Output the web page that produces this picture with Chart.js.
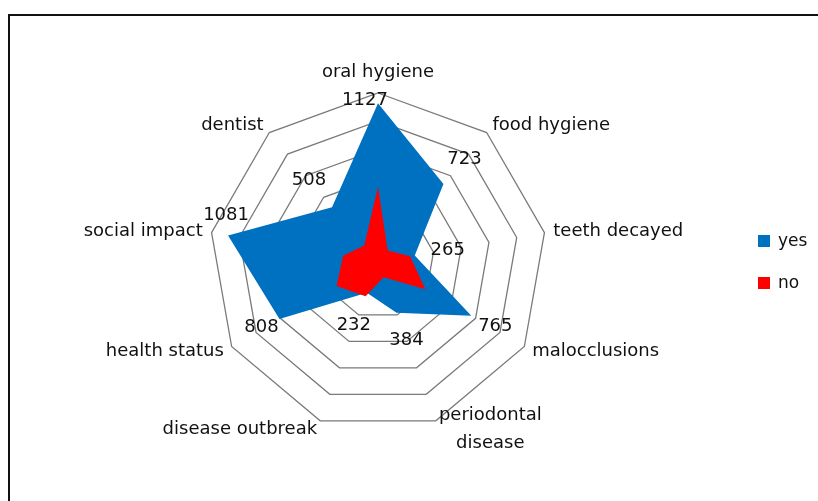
<!DOCTYPE html>
<html>
<head>
<meta charset="utf-8">
<script src="https://cdn.jsdelivr.net/npm/chart.js@4"></script>
<style>
  body { margin: 0; background: #fff; }
  #wrap { position: relative; width: 818px; height: 501px; overflow: hidden; }
  #frame { position: absolute; left: 8px; top: 14px; width: 900px; height: 600px;
           border-left: 2px solid #111; border-top: 2px solid #111; }
  .leg { position: absolute; left: 758px; font: 17px "DejaVu Sans", sans-serif; color: #111; }
  .leg span { display: inline-block; width: 12px; height: 12px; margin-right: 8px; vertical-align: -1px; }
</style>
</head>
<body>
<div id="wrap">
  <div id="frame"></div>
  <canvas id="radarChart"></canvas>
  <div class="leg" style="top:230px"><span style="background:#0070C0"></span>yes</div>
  <div class="leg" style="top:272px"><span style="background:#FF0000"></span>no</div>
</div>
<script>
const categories = ['oral hygiene', 'food hygiene', 'teeth decayed', 'malocclusions',
    ['periodontal', 'disease'], 'disease outbreak', 'health status', 'social impact', 'dentist'];
const yesValues = [1127, 723, 265, 765, 384, 232, 808, 1081, 508];
const noValues = [533, 107, 231, 388, 115, 258, 340, 251, 152];
const ringTicks = [0, 200, 400, 600, 800, 1000, 1200];

// where Excel put each "yes" value label, relative to its point
const labelOffsets = [[-13, -3], [21, -25], [33, -5], [24, 10], [10, 28], [-13, 33], [-18, 8], [-2, -20], [-23, -27]];

const textColor = '#111';
const font = '18px "DejaVu Sans", sans-serif';

const labelsPlugin = {
    id: 'radarLabels',
    afterDatasetsDraw(chart) {
        const ctx = chart.ctx;
        const scale = chart.scales.r;
        ctx.save();
        ctx.font = font;
        ctx.fillStyle = textColor;
        ctx.textBaseline = 'middle';

        // category names around the outer ring
        categories.forEach((cat, i) => {
            const p = scale.getPointPosition(i, scale.drawingArea + 9);
            const lines = Array.isArray(cat) ? cat : [cat];
            const w = Math.max(...lines.map(l => ctx.measureText(l).width));
            const c = Math.cos(p.angle), s = Math.sin(p.angle);
            let cx = p.x;
            if (c > 0.05) cx = p.x + w / 2;
            else if (c < -0.05) cx = p.x - w / 2;
            let cy = p.y;
            if (s < -0.99) cy -= 12;
            const lh = 28;
            ctx.textAlign = 'center';
            lines.forEach((l, k) => {
                ctx.fillText(l, cx, cy + (k - (lines.length - 1) / 2) * lh);
            });
        });

        // value labels of the "yes" series
        const meta = chart.getDatasetMeta(0);
        ctx.textAlign = 'center';
        meta.data.forEach((pt, i) => {
            ctx.fillText(String(yesValues[i]), pt.x + labelOffsets[i][0], pt.y + labelOffsets[i][1]);
        });
        ctx.restore();
    }
};

new Chart(document.getElementById('radarChart'), {
    type: 'radar',
    data: {
        labels: categories,
        datasets: [{
            label: 'yes',
            data: yesValues,
            backgroundColor: '#0070C0',
            borderWidth: 0,
            pointRadius: 0,
            fill: true,
            order: 2
        }, {
            label: 'no',
            data: noValues,
            backgroundColor: '#FF0000',
            borderWidth: 0,
            pointRadius: 0,
            fill: true,
            order: 1
        }]
    },
    options: {
        responsive: true,
        maintainAspectRatio: false,
        animation: false,
        layout: {
            padding: { left: 209, right: 271, top: 93, bottom: 70 }
        },
        plugins: {
            legend: { display: false },
            tooltip: { enabled: false }
        },
        scales: {
            r: {
                min: ringTicks[0],
                max: ringTicks[ringTicks.length - 1],
                ticks: {
                    stepSize: ringTicks[1] - ringTicks[0],
                    display: false
                },
                angleLines: { display: false },
                grid: {
                    color: '#7a7a7a',
                    lineWidth: 1.3
                },
                pointLabels: { display: false }
            }
        }
    },
    plugins: [labelsPlugin]
});
</script>
</body>
</html>
